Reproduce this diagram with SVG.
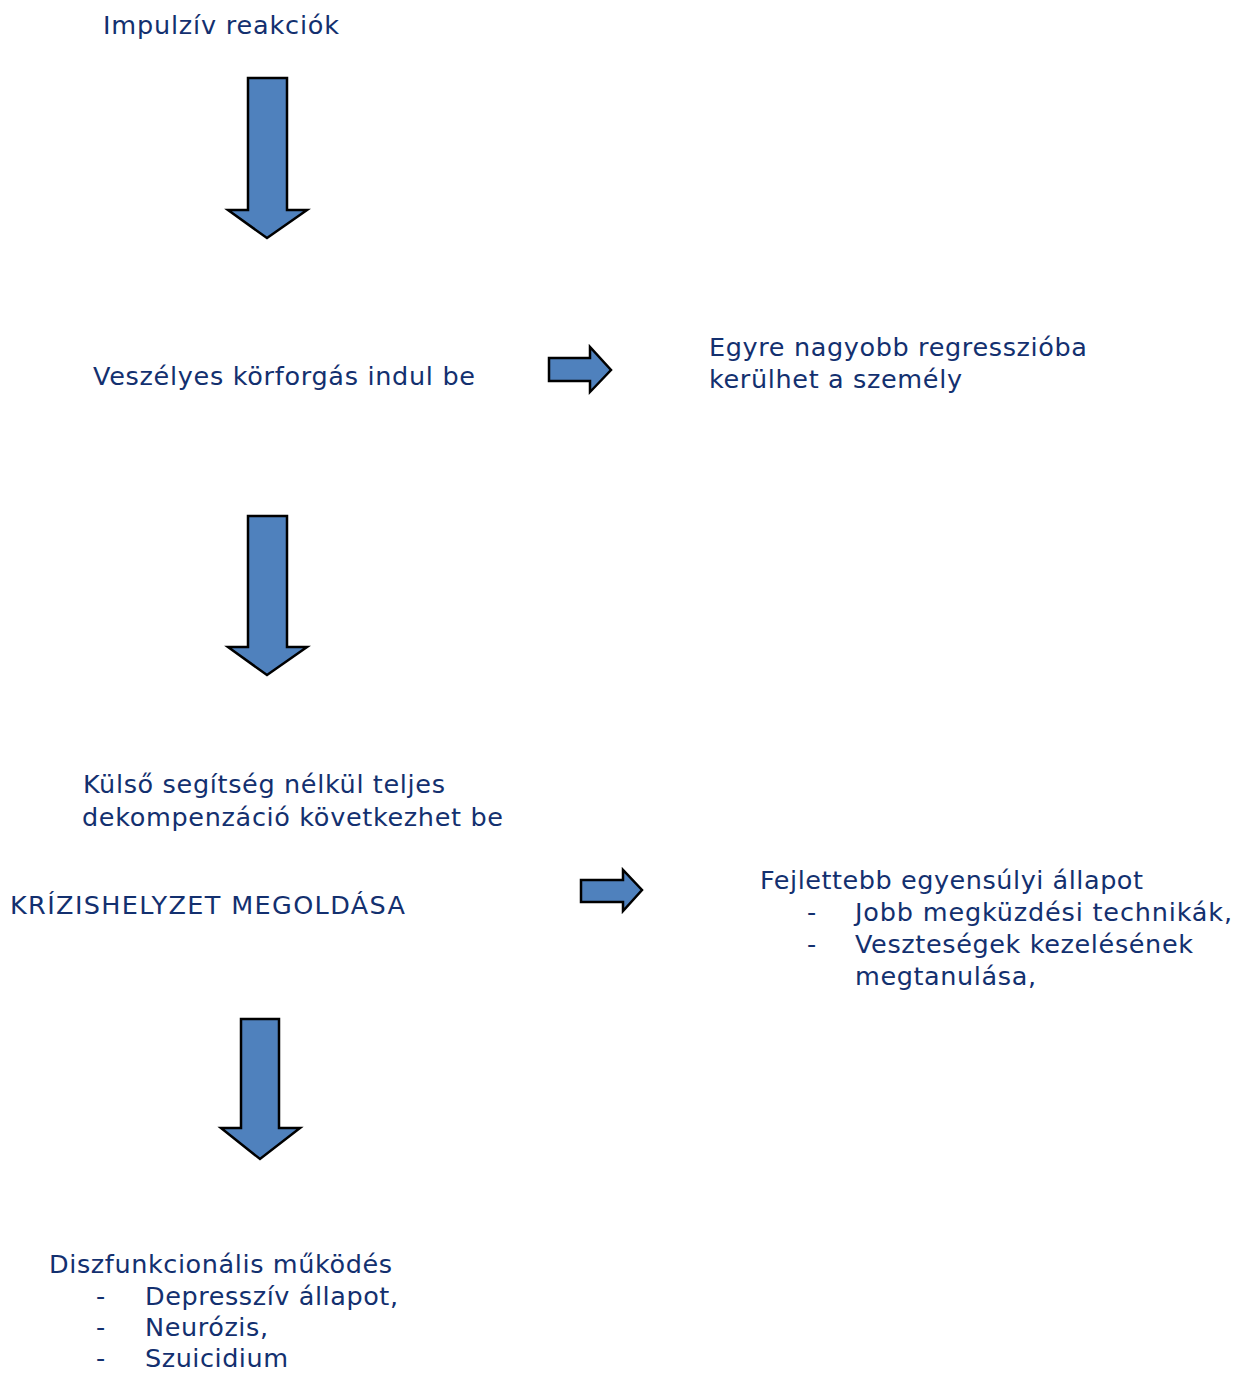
<svg xmlns="http://www.w3.org/2000/svg" width="1234" height="1373" viewBox="0 0 1234 1373">
<style>
text{font-family:"DejaVu Sans",Verdana,sans-serif;font-size:25.5px;fill:#13306f}
.arr{fill:#4f81bd;stroke:#000;stroke-width:2.5;stroke-linejoin:miter}
</style>
<rect width="1234" height="1373" fill="#fff"/>
<g id="n1"><text x="103" y="34" textLength="236" lengthAdjust="spacing">Impulzív reakciók</text></g>
<g id="n2"><text x="93" y="385" textLength="382" lengthAdjust="spacing">Veszélyes körforgás indul be</text></g>
<g id="n3"><text x="709" y="356" textLength="378" lengthAdjust="spacing">Egyre nagyobb regresszióba</text><text x="709" y="388" textLength="253" lengthAdjust="spacing">kerülhet a személy</text></g>
<g id="n4"><text x="83" y="793" textLength="362" lengthAdjust="spacing">Külső segítség nélkül teljes</text><text x="82" y="826" textLength="421" lengthAdjust="spacing">dekompenzáció következhet be</text></g>
<g id="n5"><text x="10" y="914" textLength="395" lengthAdjust="spacing">KRÍZISHELYZET MEGOLDÁSA</text></g>
<g id="n6"><text x="760" y="889" textLength="383" lengthAdjust="spacing">Fejlettebb egyensúlyi állapot</text>
<text x="807" y="921">-</text><text x="855" y="921" textLength="377" lengthAdjust="spacing">Jobb megküzdési technikák,</text>
<text x="807" y="953">-</text><text x="855" y="953" textLength="338" lengthAdjust="spacing">Veszteségek kezelésének</text>
<text x="855" y="985" textLength="181" lengthAdjust="spacing">megtanulása,</text></g>
<g id="n7"><text x="49" y="1273" textLength="343" lengthAdjust="spacing">Diszfunkcionális működés</text>
<text x="96" y="1305">-</text><text x="145" y="1305" textLength="253" lengthAdjust="spacing">Depresszív állapot,</text>
<text x="96" y="1336">-</text><text x="145" y="1336" textLength="123" lengthAdjust="spacing">Neurózis,</text>
<text x="96" y="1367">-</text><text x="145" y="1367" textLength="143" lengthAdjust="spacing">Szuicidium</text></g>
<g id="connectors">
<polygon class="arr" points="248,78 287,78 287,210 307,210 267,238 228,210 248,210"/>
<polygon class="arr" points="248,516 287,516 287,647 307,647 267,675 228,647 248,647"/>
<polygon class="arr" points="241,1019 279,1019 279,1128 300,1128 260,1159 221,1128 241,1128"/>
<polygon class="arr" points="549,358 590,358 590,347 611,370 590,392 590,381 549,381"/>
<polygon class="arr" points="581,880 623,880 623,870 642,890 623,911 623,902 581,902"/>
</g>
</svg>
